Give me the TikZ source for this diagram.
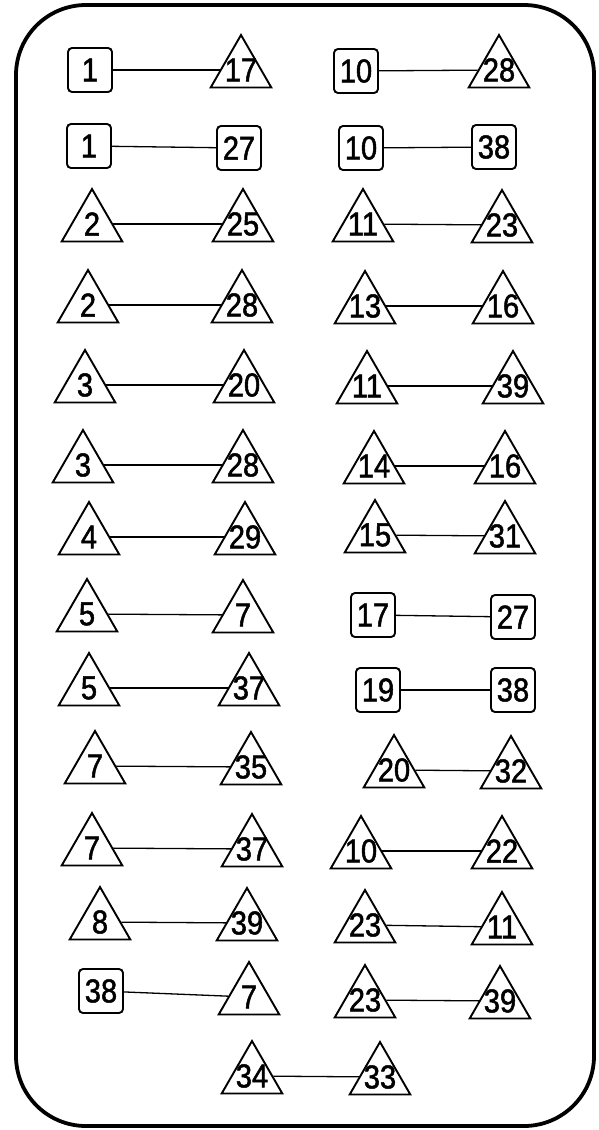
\documentclass[tikz,border=0pt]{standalone}
\usepackage{fontspec}
\newfontfamily\digitfont[FakeStretch=0.88,FakeBold=1.5]{Liberation Sans}
\usetikzlibrary{shapes.geometric}
\begin{document}
\begin{tikzpicture}[x=1pt,y=-1pt,
  numfont/.style={font=\digitfont\fontsize{33}{33}\selectfont},
  sq/.style={draw, line width=1.9pt, rounded corners=4pt, minimum width=44pt, minimum height=44pt, inner sep=0pt, numfont},
  tri/.style={draw, line width=1.9pt, regular polygon, regular polygon sides=3, minimum size=70pt, inner sep=0pt, label={[numfont, inner sep=0pt]center:#1}},
  conn/.style={line width=1.3pt},
  frame/.style={line width=3.8pt, rounded corners=70pt}
]
\useasboundingbox (0,0) rectangle (598,1130);
\draw[frame] (16,5) rectangle (594,1126);
% row 1
\node[sq] (r1a) at (90,70) {1};
\node[tri=17] (r1b) at (241,70) {};
\node[sq] (r1c) at (356,71) {10};
\node[tri=28] (r1d) at (499,70) {};
% row 2
\node[sq] (r2a) at (89,146) {1};
\node[sq] (r2b) at (239,148) {27};
\node[sq] (r2c) at (361,148) {10};
\node[sq] (r2d) at (494,147) {38};
% row 3
\node[tri=2] (r3a) at (92,224) {};
\node[tri=25] (r3b) at (243,224) {};
\node[tri=11] (r3c) at (363,224) {};
\node[tri=23] (r3d) at (502,225) {};
% row 4
\node[tri=2] (r4a) at (88,305) {};
\node[tri=28] (r4b) at (242,305) {};
\node[tri=13] (r4c) at (365,306) {};
\node[tri=16] (r4d) at (503,306) {};
% row 5
\node[tri=3] (r5a) at (85,385) {};
\node[tri=20] (r5b) at (244,385) {};
\node[tri=11] (r5c) at (367,386) {};
\node[tri=39] (r5d) at (513,386) {};
% row 6
\node[tri=3] (r6a) at (83,465) {};
\node[tri=28] (r6b) at (243,465) {};
\node[tri=14] (r6c) at (374,466) {};
\node[tri=16] (r6d) at (505,466) {};
% row 7
\node[tri=4] (r7a) at (89,537) {};
\node[tri=29] (r7b) at (245,537) {};
\node[tri=15] (r7c) at (375,535) {};
\node[tri=31] (r7d) at (505,536) {};
% row 8
\node[tri=5] (r8a) at (87,614) {};
\node[tri=7] (r8b) at (243,615) {};
\node[sq] (r8c) at (373,615) {17};
\node[sq] (r8d) at (513,617) {27};
% row 9
\node[tri=5] (r9a) at (89,688) {};
\node[tri=37] (r9b) at (249,688) {};
\node[sq] (r9c) at (378,690) {19};
\node[sq] (r9d) at (513,690) {38};
% row 10
\node[tri=7] (r10a) at (95,766) {};
\node[tri=35] (r10b) at (251,767) {};
\node[tri=20] (r10c) at (394,770) {};
\node[tri=32] (r10d) at (511,771) {};
% row 11
\node[tri=7] (r11a) at (92,848) {};
\node[tri=37] (r11b) at (252,849) {};
\node[tri=10] (r11c) at (361,851) {};
\node[tri=22] (r11d) at (502,851) {};
% row 12
\node[tri=8] (r12a) at (100,922) {};
\node[tri=39] (r12b) at (247,923) {};
\node[tri=23] (r12c) at (365,925) {};
\node[tri=11] (r12d) at (502,927) {};
% row 13
\node[sq] (r13a) at (101,991) {38};
\node[tri=7] (r13b) at (249,997) {};
\node[tri=23] (r13c) at (365,1000) {};
\node[tri=39] (r13d) at (500,1001) {};
% row 14
\node[tri=34] (r14a) at (252,1076) {};
\node[tri=33] (r14b) at (380,1077) {};
% connectors
\foreach \r in {1,...,13} {
  \draw[conn] (r\r a) -- (r\r b);
  \draw[conn] (r\r c) -- (r\r d);
}
\draw[conn] (r14a) -- (r14b);
\end{tikzpicture}
\end{document}
